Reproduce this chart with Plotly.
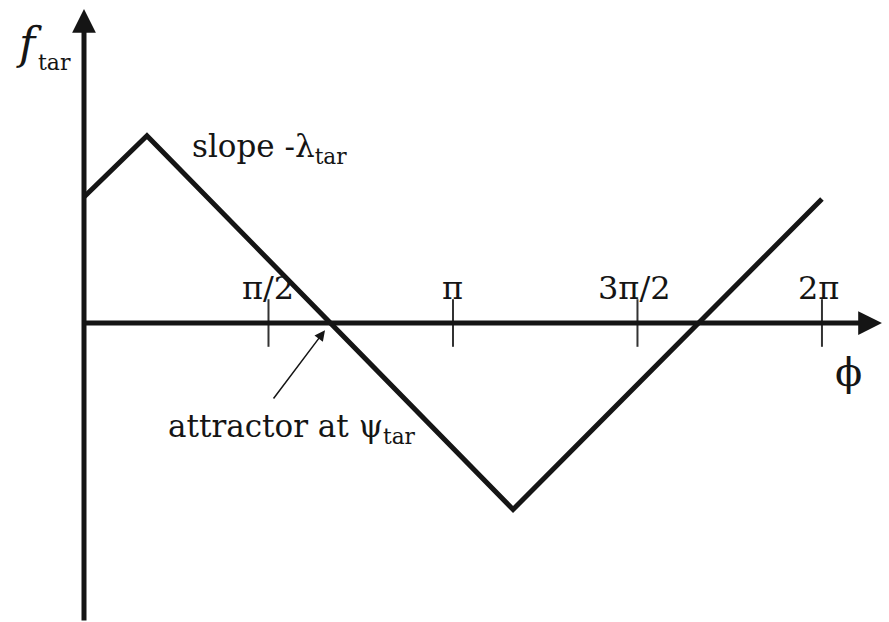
import numpy as np
import plotly.graph_objects as go

# Piecewise-linear target function f_tar(phi)
PHI = [0.0, 0.536, 3.653, 6.283]
F_TAR = [1.073, 1.595, -1.588, 1.056]

# Phase ticks on the horizontal axis
TICK_VALUES = [np.pi / 2, np.pi, 3 * np.pi / 2, 2 * np.pi]
TICK_LABELS = ["π/2", "π", "3π/2", "2π"]

INK = "#151515"
FONT = "DejaVu Serif"
W, H = 889, 622

# Axis extents chosen so both axes share the same px-per-unit scale
X_RANGE = [-0.7152, 6.854]
Y_RANGE = [-2.5458, 2.7501]
X_TIP = 6.794   # end of the phi axis arrow
Y_TIP = 2.6735  # end of the f_tar axis arrow


def px(xp):
    return xp / W


def py(yp):
    return 1 - yp / H


fig = go.Figure()

# the function itself
fig.add_trace(go.Scatter(
    x=PHI, y=F_TAR, mode="lines",
    line=dict(color=INK, width=5),
    hoverinfo="skip", showlegend=False,
))

# tick marks crossing the phi axis
fig.add_trace(go.Scatter(
    x=TICK_VALUES, y=[0] * len(TICK_VALUES), mode="markers",
    marker=dict(symbol="line-ns-open", size=34, color="#333333",
                line=dict(color="#333333", width=2)),
    hoverinfo="skip", showlegend=False,
))

# axes with arrowheads
fig.add_annotation(x=0, y=Y_TIP, ax=0, ay=Y_RANGE[0],
                   xref="x", yref="y", axref="x", ayref="y",
                   text="", showarrow=True, arrowhead=2, arrowsize=0.95,
                   arrowwidth=5, arrowcolor=INK, standoff=0)
fig.add_annotation(x=X_TIP, y=0, ax=0, ay=0,
                   xref="x", yref="y", axref="x", ayref="y",
                   text="", showarrow=True, arrowhead=2, arrowsize=0.95,
                   arrowwidth=5, arrowcolor=INK, standoff=0)

# tick labels
for v, lab in zip(TICK_VALUES, TICK_LABELS):
    fig.add_annotation(x=v, y=0, xref="x", yref="y", text=lab,
                       showarrow=False, xanchor="center", yanchor="bottom",
                       yshift=14, xshift=-3 if v > np.pi else 0,
                       font=dict(family=FONT, size=32, color=INK))

# attractor: downward zero crossing of the function
i = int(np.argmin(F_TAR))
x0, x1 = PHI[i - 1], PHI[i]
y0, y1 = F_TAR[i - 1], F_TAR[i]
phi_star = x0 - y0 * (x1 - x0) / (y1 - y0)
fig.add_annotation(x=phi_star, y=0, xref="x", yref="y", ax=-58, ay=77,
                   text="", showarrow=True, arrowhead=2, arrowsize=1.4,
                   arrowwidth=1.5, arrowcolor=INK, standoff=9)
fig.add_annotation(x=px(166), y=py(428), xref="paper", yref="paper",
                   text="attractor at ψ<sub>tar</sub>", showarrow=False,
                   xanchor="left", yanchor="middle",
                   font=dict(family=FONT, size=31, color=INK))

# slope label
fig.add_annotation(x=px(190), y=py(148), xref="paper", yref="paper",
                   text="slope -λ<sub>tar</sub>", showarrow=False,
                   xanchor="left", yanchor="middle",
                   font=dict(family=FONT, size=31, color=INK))

# axis titles
fig.add_annotation(x=px(14), y=py(44), xref="paper", yref="paper",
                   text="<i>f</i>", showarrow=False,
                   xanchor="left", yanchor="middle",
                   font=dict(family=FONT, size=44, color=INK))
fig.add_annotation(x=px(36), y=py(63), xref="paper", yref="paper",
                   text="tar", showarrow=False,
                   xanchor="left", yanchor="middle",
                   font=dict(family=FONT, size=22, color=INK))
fig.add_annotation(x=px(848), y=py(372), xref="paper", yref="paper",
                   text="ϕ", showarrow=False,
                   xanchor="center", yanchor="middle",
                   font=dict(family=FONT, size=40, color=INK))

fig.update_xaxes(range=X_RANGE, visible=False, fixedrange=True)
fig.update_yaxes(range=Y_RANGE, visible=False, fixedrange=True)
fig.update_layout(
    width=W, height=H, autosize=False,
    margin=dict(l=0, r=0, t=0, b=0),
    paper_bgcolor="white", plot_bgcolor="white",
    showlegend=False,
)

fig.write_html("out.html", config={"displayModeBar": False})
